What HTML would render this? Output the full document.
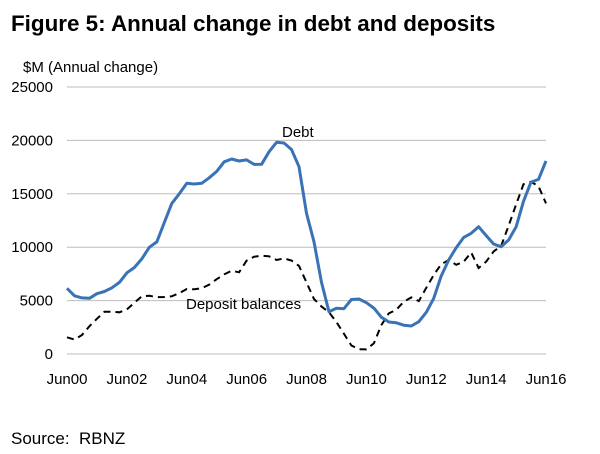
<!DOCTYPE html>
<html><head><meta charset="utf-8"><style>
html,body{margin:0;padding:0;background:#fff;}
body{width:600px;height:449px;overflow:hidden;font-family:"Liberation Sans",Arial,sans-serif;}
</style></head><body>
<svg id="chart" width="600" height="449" xmlns="http://www.w3.org/2000/svg">
<text x="11" y="31" font-size="22.4" font-weight="bold" fill="#000">Figure 5: Annual change in debt and deposits</text>
<text x="23" y="72" font-size="15" fill="#000">$M (Annual change)</text>
<text x="11" y="444" font-size="17" fill="#000">Source:&#160; RBNZ</text>
<g id="grid"></g><g id="series"></g><g id="labels"></g>
</svg>
<script>
const yTicks=[0,5000,10000,15000,20000,25000];
const xTickLabels=["Jun00","Jun02","Jun04","Jun06","Jun08","Jun10","Jun12","Jun14","Jun16"];
const debt=[6150,5450,5250,5220,5650,5850,6200,6700,7600,8100,8900,9990,10500,12300,14100,15000,15980,15920,15980,16500,17100,18000,18260,18070,18170,17750,17760,18940,19820,19760,19150,17540,13170,10500,6700,3960,4280,4240,5100,5150,4800,4300,3450,3000,2920,2700,2620,3020,3900,5210,7300,8800,9950,10920,11300,11920,11100,10300,10050,10670,11900,14300,16100,16350,18070];
const deposits=[1560,1350,1780,2600,3300,3950,3950,3900,4180,4800,5400,5450,5330,5340,5400,5700,6090,6060,6150,6500,7000,7450,7800,7650,8750,9110,9200,9150,8800,8950,8750,8250,6700,5150,4450,3900,3000,1900,800,450,430,1000,2700,3800,4150,4900,5300,4950,6200,7400,8400,8800,8350,8640,9500,8050,8640,9600,10100,12000,14000,15900,16130,15700,14100];
const NS="http://www.w3.org/2000/svg";
const x0=67,x1=546,yb=354,yt=87;
const nQ=debt.length;
function xs(i){return x0+(x1-x0)*i/(nQ-1);}
function ys(v){return yb-(yb-yt)*v/25000;}
function mk(t,a,p){const e=document.createElementNS(NS,t);for(const k in a)e.setAttribute(k,a[k]);p.appendChild(e);return e;}
const grid=document.getElementById('grid'),ser=document.getElementById('series'),lab=document.getElementById('labels');
yTicks.forEach(v=>{
  const l=mk('line',{x1:x0,x2:x1,y1:ys(v),y2:ys(v),stroke:'#bdbdbd','stroke-width':1},grid);
  
  
  const t=mk('text',{x:53,y:ys(v)+5,'font-size':15,'text-anchor':'end',fill:'#000'},lab);
  t.textContent=v;
  
  
});
xTickLabels.forEach((s,k)=>{
  const t=mk('text',{x:xs(k*8),y:384,'font-size':15,'text-anchor':'middle',fill:'#000'},lab);
  t.textContent=s;
  
  
});
function pts(a){return a.map((v,i)=>xs(i).toFixed(1)+','+ys(v).toFixed(1)).join(' ');}
const dp=mk('polyline',{points:pts(deposits),fill:'none',stroke:'#000','stroke-width':2,'stroke-dasharray':'7,5'},ser);


const db=mk('polyline',{points:pts(debt),fill:'none',stroke:'#3a73b5','stroke-width':3,'stroke-linejoin':'round'},ser);


const t1=mk('text',{x:282,y:137,'font-size':15,fill:'#000'},lab);
t1.textContent='Debt';


const t2=mk('text',{x:186,y:309,'font-size':15,fill:'#000'},lab);
t2.textContent='Deposit balances';


</script>
</body></html>
